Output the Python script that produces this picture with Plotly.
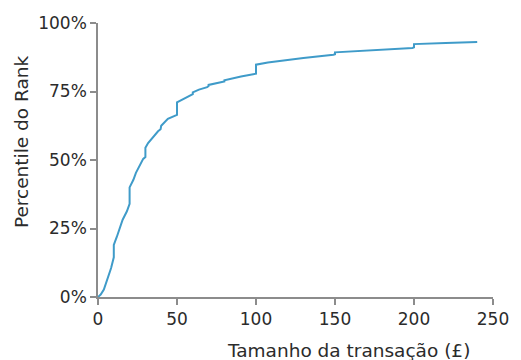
import plotly.graph_objects as go

# Transaction size (£) and cumulative rank percentile
tamanho = [0, 1.7, 3.7, 5.8, 8.3, 10, 10, 12, 14.1, 15.6, 18.3, 20, 20, 22.4, 24, 26.1, 28.6,
           30, 30, 31.7, 34.9, 38, 39.6, 40, 44.2, 47.3, 50, 50, 54.6, 58.7, 60, 60, 63.9, 69.1,
           70, 70, 76.3, 80, 80, 84.6, 90.5, 100, 100, 107.5, 119.9, 130, 149, 150, 150, 175,
           199, 200, 200, 220, 240]
percentil = [0, 0.009, 0.027, 0.063, 0.106, 0.145, 0.19, 0.221, 0.258, 0.282, 0.313, 0.340, 0.400,
             0.428, 0.453, 0.477, 0.504, 0.511, 0.545, 0.562, 0.584, 0.605, 0.612, 0.625, 0.650,
             0.659, 0.665, 0.710, 0.723, 0.735, 0.740, 0.747, 0.757, 0.766, 0.770, 0.774, 0.783,
             0.787, 0.791, 0.798, 0.805, 0.815, 0.848, 0.856, 0.866, 0.872, 0.884, 0.886, 0.893,
             0.900, 0.909, 0.911, 0.923, 0.927, 0.931]

x_ticks = [0, 50, 100, 150, 200, 250]
y_ticks = [0, 0.25, 0.5, 0.75, 1.0]
y_tick_labels = ["0%", "25%", "50%", "75%", "100%"]

font_family = "'DejaVu Sans', sans-serif"
text_color = "#2b2b2b"
axis_color = "#8c8c8c"

fig = go.Figure()
fig.add_trace(go.Scatter(x=tamanho, y=percentil, mode="lines",
                         line=dict(color="#3f9bc9", width=2), hoverinfo="skip"))

fig.update_layout(
    width=521, height=360,
    margin=dict(l=98, r=23, t=23, b=63),
    paper_bgcolor="white", plot_bgcolor="white",
    showlegend=False,
    font=dict(family=font_family, size=17, color=text_color),
    xaxis=dict(range=[0, 250], tickvals=x_ticks, showgrid=False, zeroline=False,
               showline=True, linecolor=axis_color, linewidth=1.5,
               ticks="outside", ticklen=6, tickwidth=1.5, tickcolor=axis_color,
               tickfont=dict(size=17, color=text_color)),
    yaxis=dict(range=[0, 1], tickvals=y_ticks, ticktext=y_tick_labels, showgrid=False,
               zeroline=False, showline=True, linecolor=axis_color, linewidth=1.5,
               ticks="outside", ticklen=6, tickwidth=1.5, tickcolor=axis_color,
               tickfont=dict(size=17, color=text_color)),
    annotations=[
        dict(text="Tamanho da transação (£)", xref="paper", yref="paper",
             x=0.635, y=-0.197, xanchor="center", yanchor="middle", showarrow=False,
             font=dict(size=18.5, color=text_color)),
        dict(text="Percentile do Rank", xref="paper", yref="paper",
             x=-0.195, y=0.569, xanchor="center", yanchor="middle", showarrow=False,
             textangle=-90, font=dict(size=18.5, color=text_color)),
    ],
)

fig.write_html("out.html", config={"displayModeBar": False},
               post_script="document.body.style.margin='0';document.body.style.overflow='hidden';")
